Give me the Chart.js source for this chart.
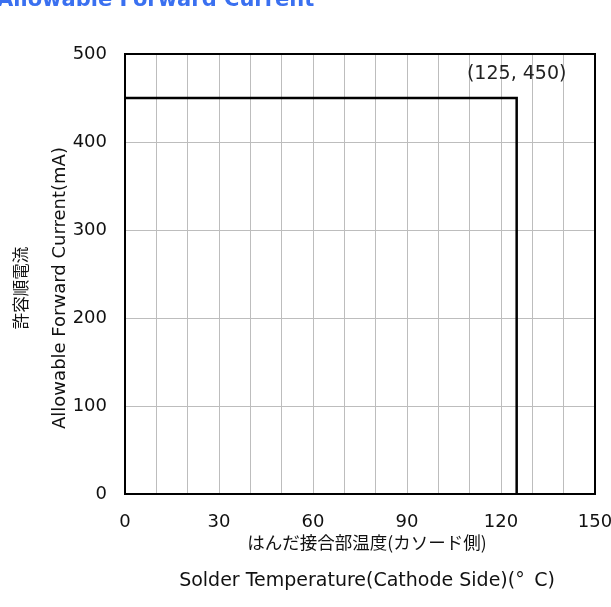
<!DOCTYPE html>
<html>
<head>
<meta charset="utf-8">
<script src="https://cdn.jsdelivr.net/npm/chart.js@4"></script>
<style>
  html, body { margin: 0; padding: 0; background: #fff; overflow: hidden; }
  canvas { display: block; }
</style>
</head>
<body>
<canvas id="myChart" width="611" height="607"></canvas>
<script>
// derating curve corners
const tempValues = [0, 125, 125];
const currentValues = [450, 450, 0];
const xTicks = [0, 30, 60, 90, 120, 150];
const yTicks = [0, 100, 200, 300, 400, 500];
const cornerLabel = '(125, 450)';
const chartTitle = 'Allowable Forward Current';
const yTitleJa = '許容順電流';
const yTitleEn = 'Allowable Forward Current(mA)';
const xTitleJa = 'はんだ接合部温度(カソード側)';
const xTitleEn = 'Solder Temperature(Cathode Side)(°\u2002C)';

const FONT = '"DejaVu Sans", Verdana, sans-serif';
const JFONT = '"Noto Sans CJK JP", sans-serif';

const textPlugin = {
    id: 'textPlugin',
    afterDatasetsDraw(chart) {
        const ctx = chart.ctx;
        const area = chart.chartArea;
        const xs = chart.scales.x;
        const ys = chart.scales.y;
        ctx.save();

        // frame
        ctx.strokeStyle = '#000';
        ctx.lineWidth = 2;
        ctx.strokeRect(area.left, area.top, area.right - area.left, area.bottom - area.top);

        // corner label
        ctx.fillStyle = '#222';
        ctx.font = '19px ' + FONT;
        ctx.textAlign = 'center';
        ctx.textBaseline = 'middle';
        ctx.fillText(cornerLabel, xs.getPixelForValue(tempValues[1]), ys.getPixelForValue(currentValues[1]) - 24);

        // title (cut off at the top)
        ctx.fillStyle = '#3a70f0';
        ctx.font = 'bold 21px ' + FONT;
        ctx.textAlign = 'left';
        ctx.textBaseline = 'alphabetic';
        ctx.fillText(chartTitle, -3, 6);

        // x axis titles
        const cx = 367;
        ctx.fillStyle = '#111';
        ctx.textAlign = 'center';
        ctx.textBaseline = 'middle';
        ctx.font = '17.5px ' + JFONT;
        ctx.fillText(xTitleJa, cx, 542);
        ctx.font = '19px ' + FONT;
        ctx.fillText(xTitleEn, cx, 581);

        // y axis titles
        const cy = 288;
        ctx.save();
        ctx.translate(21, cy);
        ctx.rotate(-Math.PI / 2);
        ctx.font = '16.5px ' + JFONT;
        ctx.fillText(yTitleJa, 0, 0);
        ctx.restore();
        ctx.save();
        ctx.translate(60, cy);
        ctx.rotate(-Math.PI / 2);
        ctx.font = '18px ' + FONT;
        ctx.fillText(yTitleEn, 0, 0);
        ctx.restore();

        ctx.restore();
    }
};

document.addEventListener('DOMContentLoaded', function () {
    const ctx = document.getElementById('myChart').getContext('2d');
    const myChart = new Chart(ctx, {
        type: 'line',
        data: {
            datasets: [{
                data: tempValues.map((t, i) => ({ x: t, y: currentValues[i] })),
                borderColor: '#000',
                borderWidth: 2.5,
                pointRadius: 0,
                tension: 0,
                fill: false
            }]
        },
        options: {
            responsive: false,
            devicePixelRatio: 1,
            animation: false,
            layout: { padding: { top: 54, right: 16, left: 0, bottom: 0 } },
            plugins: { legend: { display: false }, tooltip: { enabled: false } },
            scales: {
                x: {
                    type: 'linear',
                    min: xTicks[0],
                    max: xTicks[xTicks.length - 1],
                    afterFit: scale => {
                        scale.height = 113;
                        scale.paddingLeft = 0;
                        scale.paddingRight = 0;
                    },
                    border: { display: false },
                    grid: { color: '#bdbdbd', lineWidth: 1, drawTicks: false },
                    ticks: {
                        stepSize: 10,
                        autoSkip: false,
                        maxRotation: 0,
                        padding: 18,
                        color: '#111',
                        font: { family: FONT, size: 18 },
                        callback: v => xTicks.includes(v) ? v : ''
                    }
                },
                y: {
                    min: yTicks[0],
                    max: yTicks[yTicks.length - 1],
                    afterFit: scale => { scale.width = 125; },
                    border: { display: false },
                    grid: { color: '#bdbdbd', lineWidth: 1, drawTicks: false },
                    ticks: {
                        stepSize: 100,
                        padding: 18,
                        color: '#111',
                        font: { family: FONT, size: 18 }
                    }
                }
            }
        },
        plugins: [textPlugin]
    });
});
</script>
</body>
</html>
